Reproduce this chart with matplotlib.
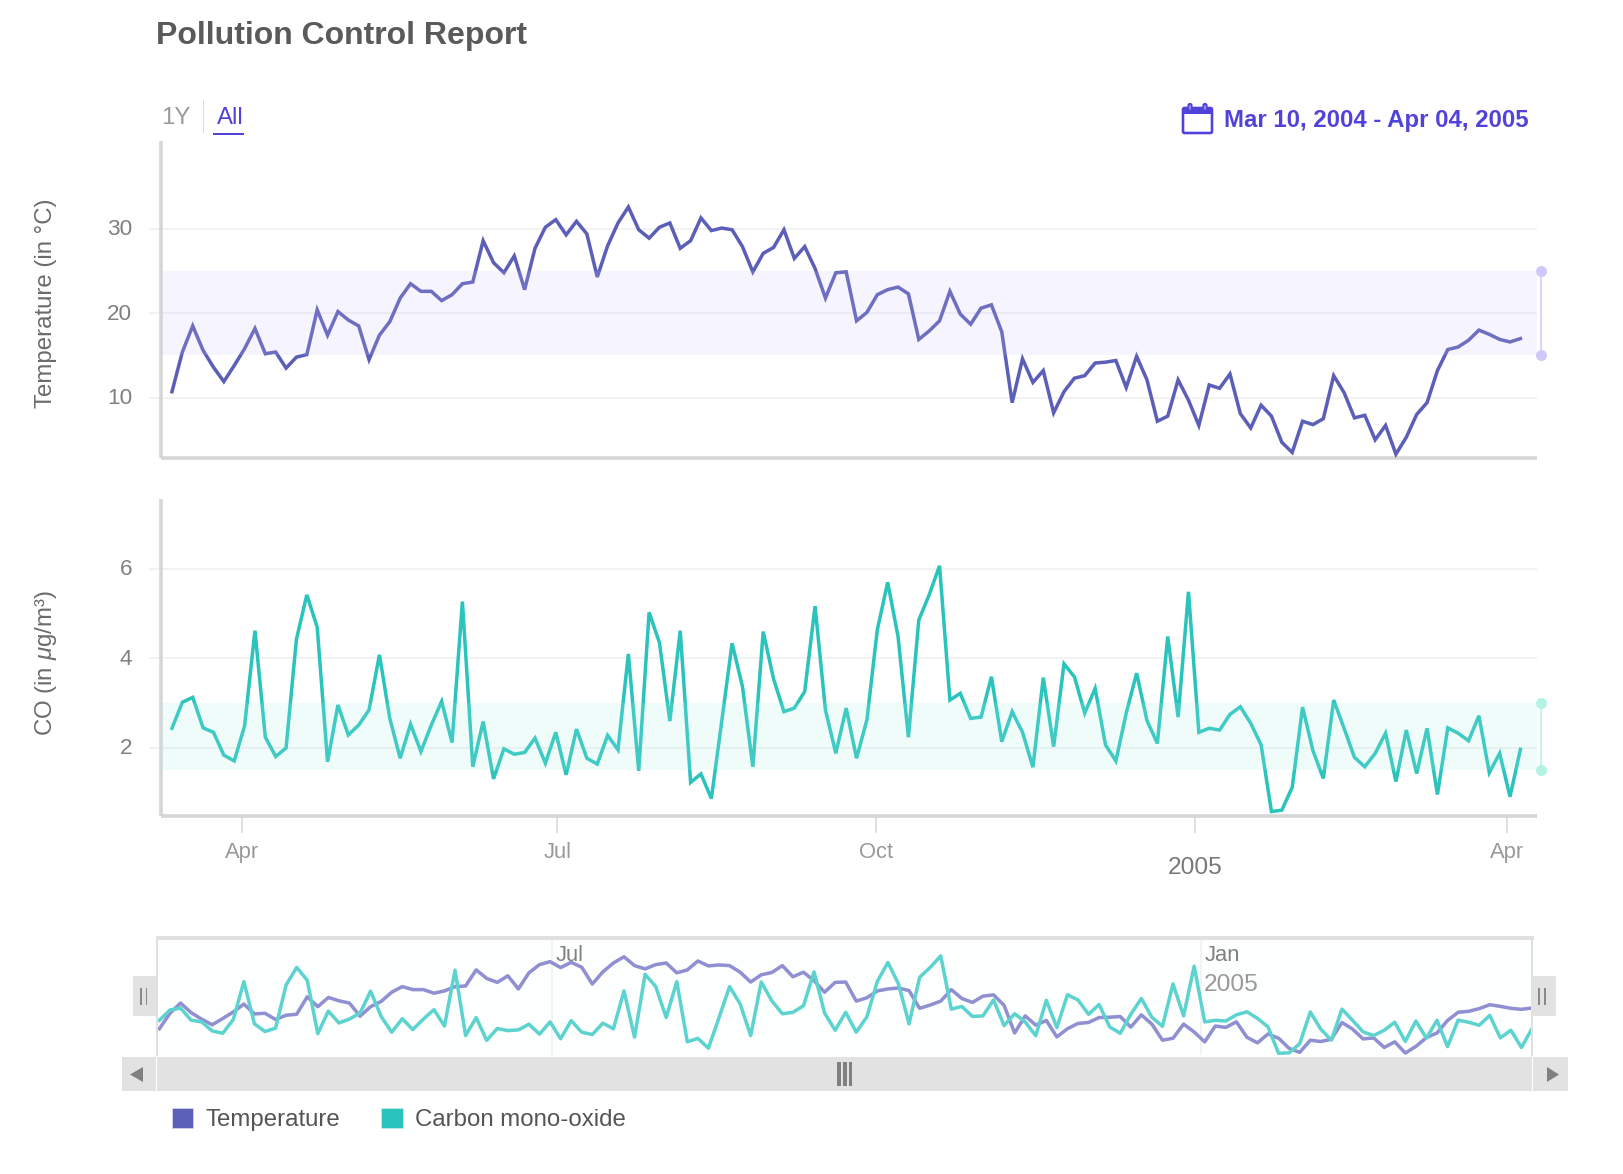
import pandas as pd
import matplotlib as mpl
import matplotlib.pyplot as plt
import matplotlib.dates as mdates
import matplotlib.patches as mpatches
from matplotlib.transforms import ScaledTranslation

plt.rcParams['font.family'] = ['Liberation Sans', 'DejaVu Sans']
plt.rcParams['mathtext.fontset'] = 'custom'
plt.rcParams['mathtext.rm'] = 'Liberation Sans'
plt.rcParams['mathtext.it'] = 'Liberation Sans:italic'

temperature = [10.7, 15.4, 18.5, 15.6, 13.6, 11.9, 13.8, 15.8, 18.2, 15.2, 15.4, 13.5, 14.8, 15.1, 20.4, 17.4,
               20.2, 19.2, 18.5, 14.5, 17.4, 19.0, 21.8, 23.5, 22.6, 22.6, 21.5, 22.2, 23.5, 23.7, 28.6, 26.0,
               24.8, 26.8, 22.8, 27.7, 30.2, 31.1, 29.3, 30.9, 29.4, 24.3, 28.0, 30.7, 32.6, 29.9, 28.9, 30.2,
               30.7, 27.7, 28.6, 31.3, 29.8, 30.1, 29.9, 27.9, 24.9, 27.1, 27.8, 29.9, 26.5, 27.9, 25.3, 21.8,
               24.8, 24.9, 19.1, 20.1, 22.2, 22.8, 23.1, 22.3, 16.9, 17.9, 19.1, 22.6, 19.9, 18.7, 20.6, 21.0,
               17.8, 9.4, 14.6, 11.8, 13.2, 8.2, 10.7, 12.3, 12.6, 14.1, 14.2, 14.4, 11.2, 14.9, 12.1, 7.2,
               7.8, 12.1, 9.7, 6.7, 11.5, 11.1, 12.8, 8.1, 6.4, 9.1, 7.8, 4.7, 3.5, 7.2, 6.8, 7.5,
               12.6, 10.6, 7.6, 7.9, 5.0, 6.7, 3.3, 5.3, 8.0, 9.4, 13.2, 15.7, 16.0, 16.8, 18.0, 17.5,
               16.9, 16.6, 17.0]
carbon = [2.44, 3.02, 3.13, 2.45, 2.35, 1.84, 1.71, 2.49, 4.62, 2.24, 1.81, 2.0, 4.43, 5.42, 4.70, 1.69,
          2.96, 2.29, 2.51, 2.85, 4.08, 2.66, 1.77, 2.53, 1.92, 2.51, 3.04, 2.12, 5.27, 1.58, 2.59, 1.31,
          1.98, 1.86, 1.90, 2.22, 1.66, 2.35, 1.40, 2.42, 1.77, 1.64, 2.28, 1.96, 4.10, 1.49, 5.03, 4.35,
          2.60, 4.62, 1.23, 1.42, 0.87, 2.59, 4.34, 3.37, 1.58, 4.60, 3.54, 2.81, 2.89, 3.26, 5.17, 2.85,
          1.88, 2.89, 1.77, 2.63, 4.64, 5.70, 4.49, 2.24, 4.86, 5.42, 6.07, 3.07, 3.22, 2.66, 2.69, 3.59,
          2.14, 2.81, 2.35, 1.57, 3.57, 2.03, 3.88, 3.59, 2.78, 3.33, 2.07, 1.71, 2.78, 3.67, 2.61, 2.10,
          4.49, 2.69, 5.49, 2.35, 2.44, 2.40, 2.75, 2.92, 2.55, 2.07, 0.58, 0.61, 1.12, 2.91, 1.94, 1.32,
          3.07, 2.44, 1.79, 1.58, 1.88, 2.33, 1.25, 2.40, 1.43, 2.44, 0.96, 2.45, 2.33, 2.16, 2.72, 1.45,
          1.88, 0.91, 1.97]
dates = pd.date_range('2004-03-11 19:00', '2005-04-04 22:00', periods=len(temperature))

temp_ticks = [10, 20, 30]
carbon_ticks = [2, 4, 6]
temp_band = (15, 25)
carbon_band = (1.5, 3)
month_ticks = ['2004-04-01', '2004-07-01', '2004-10-01', '2005-01-01', '2005-04-01']
month_labels = ['Apr', 'Jul', 'Oct', '2005', 'Apr']

W, H = 1624, 1174
TEMP_COLOR = '#5c5fb7'
CO_COLOR = '#2ac4bd'
NAV_TEMP = '#8f8fd2'
NAV_CO = '#5dd3cf'
ACCENT = '#5143d9'
AXIS = '#d6d6d6'
GRID = '#f2f2f2'
BAR = '#e2e2e2'
PX = 0.72  # points per pixel at dpi 100

fig = plt.figure(figsize=(W / 100, H / 100), dpi=100)


def box(x0, y0, x1, y1):
    return [x0 / W, 1 - y1 / H, (x1 - x0) / W, (y1 - y0) / H]


def style_panel(ax, ylim, yticks, ylabel, ylabel_y):
    ax.set_xlim(mdates.date2num(pd.Timestamp('2004-03-08 15:00')), mdates.date2num(pd.Timestamp('2005-04-09 17:00')))
    ax.set_ylim(*ylim)
    ax.set_yticks(yticks)
    ax.grid(axis='y', color=GRID, lw=2 * PX)
    ax.set_axisbelow(True)
    for s in ['top', 'right']:
        ax.spines[s].set_visible(False)
    for s in ['left', 'bottom']:
        ax.spines[s].set_color(AXIS)
        ax.spines[s].set_linewidth(3.6 * PX)
        ax.spines[s].set_capstyle('butt')
    ax.tick_params(axis='y', length=12 * PX, width=2 * PX, color=GRID, labelcolor='#808080',
                   labelsize=22.5 * PX, pad=12)
    nudge = ScaledTranslation(0, 1.5 / 100, fig.dpi_scale_trans)
    for lab in ax.get_yticklabels():
        lab.set_transform(lab.get_transform() + nudge)
    fig.text(46 / W, 1 - ylabel_y / H, ylabel, rotation=90, color='#6b6b6b', fontsize=24 * PX,
             ha='center', va='center')


def add_band(ax, band, fill, knob):
    # the band sits over the line, that is why the line turns paler inside it
    ax.axhspan(band[0], band[1], color=fill, alpha=0.17, lw=0, zorder=5)
    trans = ax.get_yaxis_transform()
    ax.plot([1.0027, 1.0027], band, color=knob, lw=1.5 * PX, transform=trans, clip_on=False, zorder=6)
    ax.plot([1.0027, 1.0027], band, 'o', color=knob, ms=11 * PX, mew=0, transform=trans, clip_on=False, zorder=6)


ax_temp = fig.add_axes(box(161, 141, 1537, 457.5))
ax_temp.plot(dates, temperature, color=TEMP_COLOR, lw=3.5 * PX, zorder=3, solid_joinstyle='miter')
style_panel(ax_temp, (2.9, 40.42), temp_ticks, 'Temperature (in °C)', 303)
ax_temp.set_xticks([])
add_band(ax_temp, temp_band, '#cdc3fa', '#cfc8fb')

ax_co = fig.add_axes(box(161, 499, 1537, 816))
ax_co.plot(dates, carbon, color=CO_COLOR, lw=3.5 * PX, zorder=3, solid_joinstyle='miter')
style_panel(ax_co, (0.48, 7.562), carbon_ticks, r'CO (in $\mathit{\mu}$g/m³)', 663)
add_band(ax_co, carbon_band, '#aaf0e6', '#b2f3e4')

tick_dates = [mdates.date2num(pd.Timestamp(d)) for d in month_ticks]
ax_co.set_xticks(tick_dates)
ax_co.set_xticklabels(month_labels)
ax_co.tick_params(axis='x', length=17 * PX, width=1.5 * PX, color=AXIS, labelcolor='#999999',
                  labelsize=22 * PX, pad=6.7)
year_tick = ax_co.xaxis.get_major_ticks()[3]
year_tick.tick1line.set_markersize(26 * PX)
year_tick.tick1line.set_color('#a6a6a6')
year_tick.set_pad(17)
year_tick.label1.set_fontsize(24.5 * PX)
year_tick.label1.set_color('#777777')

# navigator with both series squeezed into one strip
ax_nav = fig.add_axes(box(157.5, 938, 1532, 1055), facecolor='#fdfffe')
ax_nav.set_xlim(mdates.date2num(pd.Timestamp('2004-03-11 06:00')), mdates.date2num(pd.Timestamp('2005-04-04 22:00')))
ax_nav.plot(dates, temperature, color=NAV_TEMP, lw=3.5 * PX)
ax_nav.set_ylim(2.7, 38.3)
ax_nav.set_xticks([])
ax_nav.set_yticks([])
ax_co2 = ax_nav.twinx()
ax_co2.plot(dates, carbon, color=NAV_CO, lw=3.5 * PX)
ax_co2.set_ylim(0.485, 7.08)
ax_co2.set_yticks([])
for a in [ax_nav, ax_co2]:
    a.spines['bottom'].set_visible(False)
    a.spines['top'].set_color('#e0e0e0')
    a.spines['top'].set_linewidth(4 * PX)
    a.spines['left'].set_color('#e0e0e0')
    a.spines['left'].set_linewidth(2 * PX)
    a.spines['right'].set_color('#e0e0e0')
    a.spines['right'].set_linewidth(2 * PX)
nav_trans = ax_nav.get_xaxis_transform()
for d in [tick_dates[1], tick_dates[3]]:
    ax_nav.axvline(d, color='#f0f0f0', lw=1.5 * PX, zorder=1)
ax_nav.text(tick_dates[1] + 1.0, 0.848, 'Jul', transform=nav_trans, color='#808080', fontsize=22 * PX,
            va='center', zorder=1)
ax_nav.text(tick_dates[3] + 1.0, 0.848, 'Jan', transform=nav_trans, color='#808080', fontsize=22 * PX,
            va='center', zorder=1)
ax_nav.text(tick_dates[3] + 1.0, 0.60, '2005', transform=nav_trans, color='#999999', fontsize=24.5 * PX,
            va='center', zorder=1)

# page furniture, drawn in pixel coordinates
ui = fig.add_axes([0, 0, 1, 1], facecolor='none')
ui.set_xlim(0, W)
ui.set_ylim(H, 0)
ui.axis('off')


def rect(x0, y0, x1, y1, color):
    ui.add_patch(mpatches.Rectangle((x0, y0), x1 - x0, y1 - y0, color=color, lw=0))


ui.text(156, 36, 'Pollution Control Report', color='#5a5a5a', fontsize=32 * PX, fontweight='bold', va='center')
ui.text(161, 118, '1Y', color='#9a9a9a', fontsize=24 * PX, va='center')
ui.text(217, 118, 'All', color=ACCENT, fontsize=24 * PX, va='center')
rect(203, 100, 204, 133, '#dddddd')
rect(213, 133, 244, 135, ACCENT)
ui.text(1224, 121, 'Mar 10, 2004 - Apr 04, 2005', color=ACCENT, fontsize=24 * PX, fontweight='bold', va='center')

# calendar icon
ui.add_patch(mpatches.FancyBboxPatch((1183, 108), 29, 25, boxstyle='round,pad=0,rounding_size=1.5',
                                     fc='white', ec=ACCENT, lw=2.6 * PX))
rect(1183, 107, 1212, 113.5, ACCENT)
for rx in [1190, 1205]:
    ui.add_patch(mpatches.FancyBboxPatch((rx - 1.5, 104), 3, 7, boxstyle='round,pad=0,rounding_size=1.5',
                                         fc='white', ec=ACCENT, lw=2.2 * PX))

# scrollbar and its buttons
rect(157, 1057, 1532, 1091, BAR)
rect(122, 1057, 156.5, 1091, BAR)
rect(1533, 1057, 1568, 1091, BAR)
ui.add_patch(mpatches.Polygon([(143, 1067), (143, 1082), (130, 1074.5)], color='#808080', lw=0))
ui.add_patch(mpatches.Polygon([(1547, 1067), (1547, 1082), (1559, 1074.5)], color='#808080', lw=0))
for gx in [837.5, 843.5, 849]:
    rect(gx, 1062, gx + 3.5, 1086, '#808080')
# navigator handles
rect(133.5, 976, 157, 1016, BAR)
rect(1532, 976, 1556, 1016, BAR)
for gx in [140.5, 146, 1538.5, 1544.5]:
    rect(gx, 988, gx + 1.3, 1005, '#8a8a8a')

handles = [mpatches.Patch(facecolor=TEMP_COLOR, edgecolor='#d8d8f0', lw=0.5, label='Temperature'),
           mpatches.Patch(facecolor=CO_COLOR, edgecolor='#c8f0ec', lw=0.5, label='Carbon mono-oxide')]
fig.legend(handles=handles, loc='center left', bbox_to_anchor=(164.5 / W, 1 - 1119.5 / H), ncol=2, frameon=False,
           fontsize=24 * PX, labelcolor='#555555', handlelength=0.9, handleheight=0.9, handletextpad=0.5,
           columnspacing=1.72, borderpad=0.3, borderaxespad=0)

fig.savefig('out.png', dpi=100)
